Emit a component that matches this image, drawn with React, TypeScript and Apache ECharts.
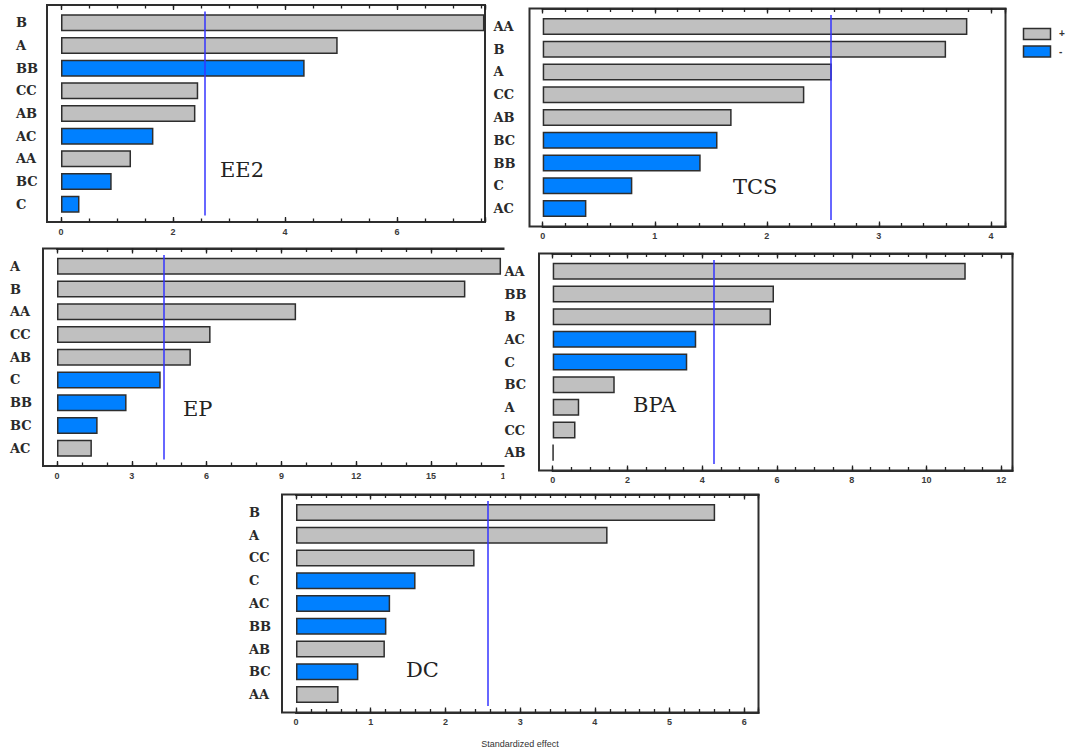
import React, { useEffect, useRef } from 'react';
import * as echarts from 'echarts';

// ---------- data ----------
const ee2Terms = ['B', 'A', 'BB', 'CC', 'AB', 'AC', 'AA', 'BC', 'C'];
const ee2Effects = [7.56, 4.94, 4.35, 2.45, 2.40, 1.65, 1.25, 0.905, 0.33];
const ee2Signs = ['+', '+', '-', '+', '+', '-', '+', '-', '-'];

const tcsTerms = ['AA', 'B', 'A', 'CC', 'AB', 'BC', 'BB', 'C', 'AC'];
const tcsEffects = [3.79, 3.60, 2.58, 2.335, 1.686, 1.56, 1.41, 0.80, 0.39];
const tcsSigns = ['+', '+', '+', '+', '+', '-', '-', '-', '-'];

const epTerms = ['A', 'B', 'AA', 'CC', 'AB', 'C', 'BB', 'BC', 'AC'];
const epEffects = [17.81, 16.38, 9.59, 6.16, 5.37, 4.16, 2.79, 1.63, 1.40];
const epSigns = ['+', '+', '+', '+', '+', '-', '-', '-', '+'];

const bpaTerms = ['AA', 'BB', 'B', 'AC', 'C', 'BC', 'A', 'CC', 'AB'];
const bpaEffects = [11.05, 5.92, 5.84, 3.84, 3.60, 1.66, 0.71, 0.61, 0.02];
const bpaSigns = ['+', '+', '+', '-', '-', '+', '+', '+', '+'];

const dcTerms = ['B', 'A', 'CC', 'C', 'AC', 'BB', 'AB', 'BC', 'AA'];
const dcEffects = [5.61, 4.17, 2.39, 1.60, 1.26, 1.21, 1.19, 0.835, 0.57];
const dcSigns = ['+', '+', '+', '-', '-', '-', '+', '-', '+'];

const panelNames = ['EE2', 'TCS', 'EP', 'BPA', 'DC'];
const criticalValues = [2.571, 2.571, 4.303, 4.303, 2.571];
const axisMaxes = [7.57, 4.13, 18.57, 12.30, 6.19];
const tickSteps = [0.5, 0.2, 1, 0.5, 0.2];
const labelSteps = [2, 1, 3, 2, 1];
const legendLabels = ['+', '-'];
const axisTitle = 'Standardized effect';

// ---------- layout / style ----------
const GRAY = '#c0c0c0';
const BLUE = '#0080ff';
const BORDER = '#2e2e2e';
const LINE = '#3535ff';

type Layout = {
  frame: [number, number, number, number];
  zero: number;
  labelX: number;
  title: [number, number];
  front: boolean;
};

const layouts: Layout[] = [
  { frame: [47, 5, 485, 222], zero: 61, labelX: 16, title: [220, 170], front: false },
  { frame: [529.5, 8.5, 1005.5, 226.5], zero: 542.7, labelX: 493.5, title: [733, 187], front: true },
  { frame: [43, 248.5, 520, 466], zero: 57, labelX: 10, title: [183, 409], front: false },
  { frame: [539, 253.5, 1012.5, 470.5], zero: 552.7, labelX: 504.5, title: [633, 405], front: true },
  { frame: [282, 494.5, 758.5, 712.5], zero: 296, labelX: 249, title: [406, 670], front: false },
];

const panels = [
  { terms: ee2Terms, effects: ee2Effects, signs: ee2Signs },
  { terms: tcsTerms, effects: tcsEffects, signs: tcsSigns },
  { terms: epTerms, effects: epEffects, signs: epSigns },
  { terms: bpaTerms, effects: bpaEffects, signs: bpaSigns },
  { terms: dcTerms, effects: dcEffects, signs: dcSigns },
];

function buildOption() {
  const grid: any[] = [];
  const xAxis: any[] = [];
  const yAxis: any[] = [];
  const series: any[] = [];
  const graphic: any[] = [];

  // white backgrounds of the panels that sit on top of others
  graphic.push({ type: 'rect', z: 10, shape: { x: 487, y: 0, width: 579, height: 245 }, style: { fill: '#fff' } });
  graphic.push({ type: 'rect', z: 10, shape: { x: 504.5, y: 245, width: 561.5, height: 244 }, style: { fill: '#fff' } });

  panels.forEach((p, i) => {
    const L = layouts[i];
    const [l, t, r, b] = L.frame;
    const gTop = t + 6.5;
    const gBottom = b - 6.5;
    const zAxis = L.front ? 12 : 3;
    const zSeries = L.front ? 12 : 2;
    grid.push({ left: L.zero, top: gTop, width: r - L.zero, height: gBottom - gTop });

    const step = tickSteps[i];
    const lstep = labelSteps[i];
    const fmt = (v: number) => {
      const q = v / lstep;
      return Math.abs(q - Math.round(q)) < 1e-6 ? String(Math.round(v)) : '';
    };
    const mk = (pos: 'top' | 'bottom', interval: number, len: number, labels: boolean) => ({
      type: 'value',
      gridIndex: i,
      min: 0,
      max: axisMaxes[i],
      interval,
      position: pos,
      offset: pos === 'bottom' ? b - gBottom : gTop - t,
      axisLine: { show: true, onZero: false, lineStyle: { color: BORDER, width: 2 } },
      axisTick: { show: true, inside: true, length: len, lineStyle: { color: '#222', width: 1.3 } },
      splitLine: { show: false },
      axisLabel: labels
        ? {
            show: true,
            margin: 5,
            fontSize: 9,
            fontWeight: 'bold',
            fontFamily: 'Liberation Sans, Arial, sans-serif',
            color: '#3a3a3a',
            formatter: fmt,
          }
        : { show: false },
      z: zAxis,
    });
    const base = xAxis.length;
    xAxis.push(mk('bottom', lstep, 5, true));
    xAxis.push(mk('bottom', step, 3.5, false));
    xAxis.push(mk('top', lstep, 5, false));
    xAxis.push(mk('top', step, 3.5, false));

    yAxis.push({
      type: 'category',
      gridIndex: i,
      data: p.terms,
      inverse: true,
      axisLine: { show: false },
      axisTick: { show: false },
      axisLabel: {
        interval: 0,
        align: 'left',
        margin: L.zero - L.labelX,
        fontFamily: 'DejaVu Serif, serif',
        fontWeight: 'bold',
        fontSize: 13,
        color: '#2a2a2a',
      },
      z: zAxis,
    });
    series.push({
      type: 'bar',
      name: panelNames[i],
      xAxisIndex: base,
      yAxisIndex: i,
      barWidth: 17,
      z: zSeries,
      data: p.effects.map((v, k) => ({
        value: v,
        itemStyle: { color: p.signs[k] === '+' ? GRAY : BLUE },
      })),
      itemStyle: { borderColor: BORDER, borderWidth: 1.5 },
      markLine: {
        z: L.front ? 13 : 5,
        silent: true,
        symbol: 'none',
        label: { show: false },
        lineStyle: { color: LINE, width: 1.5, type: 'solid' },
        data: [{ xAxis: criticalValues[i] }],
      },
    });

    graphic.push({
      type: 'rect',
      z: L.front ? 11 : 1,
      shape: { x: l, y: t, width: r - l, height: b - t },
      style: { fill: 'transparent', stroke: BORDER, lineWidth: 2 },
    });
    graphic.push({
      type: 'text',
      z: L.front ? 13 : 3,
      x: L.title[0],
      y: L.title[1],
      style: {
        text: panelNames[i],
        font: '21px "DejaVu Serif", serif',
        fill: '#222',
        textAlign: 'left',
        textVerticalAlign: 'middle',
      },
    });
  });

  // legend
  [GRAY, BLUE].forEach((c, k) => {
    graphic.push({
      type: 'rect',
      z: 13,
      shape: { x: 1023.5, y: 28.5 + k * 17.5, width: 27, height: 11 },
      style: { fill: c, stroke: BORDER, lineWidth: 1.5 },
    });
    graphic.push({
      type: 'text',
      z: 13,
      x: 1059,
      y: 33.5 + k * 17.5,
      style: {
        text: legendLabels[k],
        font: 'bold 10px "Liberation Sans", Arial, sans-serif',
        fill: '#333',
        textAlign: 'left',
        textVerticalAlign: 'middle',
      },
    });
  });

  graphic.push({
    type: 'text',
    z: 3,
    x: 520,
    y: 744,
    style: {
      text: axisTitle,
      font: '9px "Liberation Sans", Arial, sans-serif',
      fill: '#333',
      textAlign: 'center',
      textVerticalAlign: 'middle',
    },
  });

  return {
    animation: false,
    backgroundColor: '#fff',
    grid,
    xAxis,
    yAxis,
    series,
    graphic,
  };
}

export default function App() {
  const ref = useRef<HTMLDivElement>(null);
  useEffect(() => {
    if (!ref.current) return;
    const chart = echarts.init(ref.current, undefined, { renderer: 'svg' });
    chart.setOption(buildOption() as any);
    return () => chart.dispose();
  }, []);
  return (
    <div
      ref={ref}
      style={{ position: 'absolute', left: 0, top: 0, width: 1066, height: 752, background: '#fff' }}
    />
  );
}
